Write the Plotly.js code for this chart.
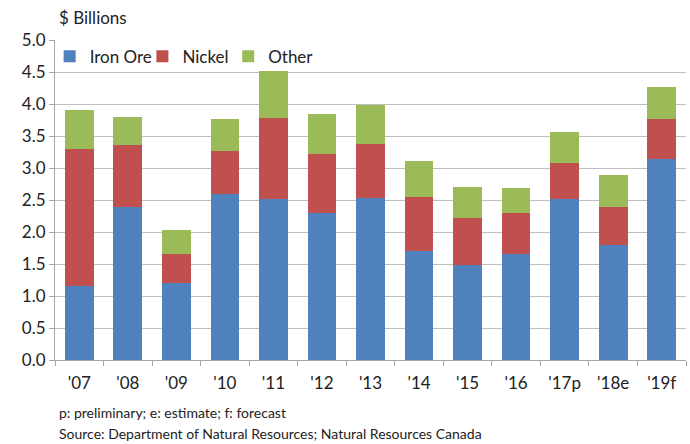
<!DOCTYPE html>
<html>
<head>
<meta charset="utf-8">
<script src="https://cdn.plot.ly/plotly-3.0.1.min.js"></script>
<style>
  html, body { margin: 0; padding: 0; background: #fff; }
  #chart { width: 690px; height: 444px; }
</style>
</head>
<body>
<div id="chart"></div>
<script>
// Mineral production value by commodity, $ billions
const years = ["'07", "'08", "'09", "'10", "'11", "'12", "'13", "'14", "'15", "'16", "'17p", "'18e", "'19f"];
const ironOre = [1.15, 2.39, 1.21, 2.59, 2.51, 2.29, 2.53, 1.70, 1.48, 1.66, 2.52, 1.80, 3.14];
const nickel  = [2.14, 0.97, 0.45, 0.67, 1.27, 0.93, 0.84, 0.85, 0.74, 0.64, 0.56, 0.59, 0.63];
const other   = [0.62, 0.44, 0.37, 0.51, 0.73, 0.62, 0.61, 0.56, 0.48, 0.38, 0.48, 0.50, 0.49];
const yTicks  = [0, 0.5, 1, 1.5, 2, 2.5, 3, 3.5, 4, 4.5, 5];

const FONT = "Lato, 'Open Sans', sans-serif";

// each series gets its own legend box so the three entries sit in one row
const series = [
  { name: "Iron Ore", y: ironOre, color: "#4f81bd", legend: "legend",  lx: -0.0085 },
  { name: "Nickel",   y: nickel,  color: "#c0504d", legend: "legend2", lx: 0.1385 },
  { name: "Other",    y: other,   color: "#9bbb59", legend: "legend3", lx: 0.2745 }
];

const traces = series.map(s => ({
  type: "bar",
  name: s.name,
  x: years,
  y: s.y,
  legend: s.legend,
  marker: { color: s.color, line: { width: 0 } },
  hoverinfo: "x+y+name"
}));

const legendStyle = lx => ({
  orientation: "h",
  x: lx, xanchor: "left",
  y: 0.948, yanchor: "middle",
  bgcolor: "rgba(0,0,0,0)",
  font: { family: FONT, size: 17, color: "#222" },
  itemwidth: 30
});

const layout = {
  width: 690,
  height: 444,
  margin: { l: 55, r: 4, t: 40, b: 84 },
  barmode: "stack",
  bargap: 0.41,
  paper_bgcolor: "#ffffff",
  plot_bgcolor: "#ffffff",
  font: { family: FONT, size: 15, color: "#222" },
  showlegend: true,
  legend: legendStyle(series[0].lx),
  legend2: legendStyle(series[1].lx),
  legend3: legendStyle(series[2].lx),
  xaxis: {
    type: "category",
    tickson: "boundaries",
    ticks: "outside",
    ticklen: 5,
    tickcolor: "#a6a6a6",
    showline: true,
    linecolor: "#a6a6a6",
    linewidth: 1,
    showgrid: false,
    ticklabelstandoff: 8,
    tickfont: { family: FONT, size: 17, color: "#222" },
    fixedrange: true
  },
  yaxis: {
    range: [0, 5],
    tickvals: yTicks,
    ticktext: yTicks.map(v => v.toFixed(1)),
    ticks: "outside",
    ticklen: 5,
    tickcolor: "#a6a6a6",
    showline: true,
    linecolor: "#a6a6a6",
    linewidth: 1,
    showgrid: true,
    gridcolor: "#bfbfbf",
    gridwidth: 1,
    zeroline: false,
    tickfont: { family: FONT, size: 17, color: "#222" },
    fixedrange: true
  },
  annotations: [
    {
      text: "$ Billions",
      xref: "paper", yref: "paper",
      x: 0.003, y: 1.0, xanchor: "left", yanchor: "bottom",
      yshift: 10,
      showarrow: false,
      font: { family: FONT, size: 17, color: "#222" }
    },
    {
      text: "p: preliminary; e: estimate; f: forecast",
      xref: "paper", yref: "paper",
      x: 0.003, y: 0, xanchor: "left", yanchor: "middle",
      yshift: -52,
      showarrow: false,
      font: { family: FONT, size: 14, color: "#222" }
    },
    {
      text: "Source: Department of Natural Resources; Natural Resources Canada",
      xref: "paper", yref: "paper",
      x: 0.003, y: 0, xanchor: "left", yanchor: "middle",
      yshift: -73,
      showarrow: false,
      font: { family: FONT, size: 14, color: "#222" }
    }
  ]
};

Plotly.newPlot("chart", traces, layout, { displayModeBar: false, staticPlot: true });
</script>
</body>
</html>
